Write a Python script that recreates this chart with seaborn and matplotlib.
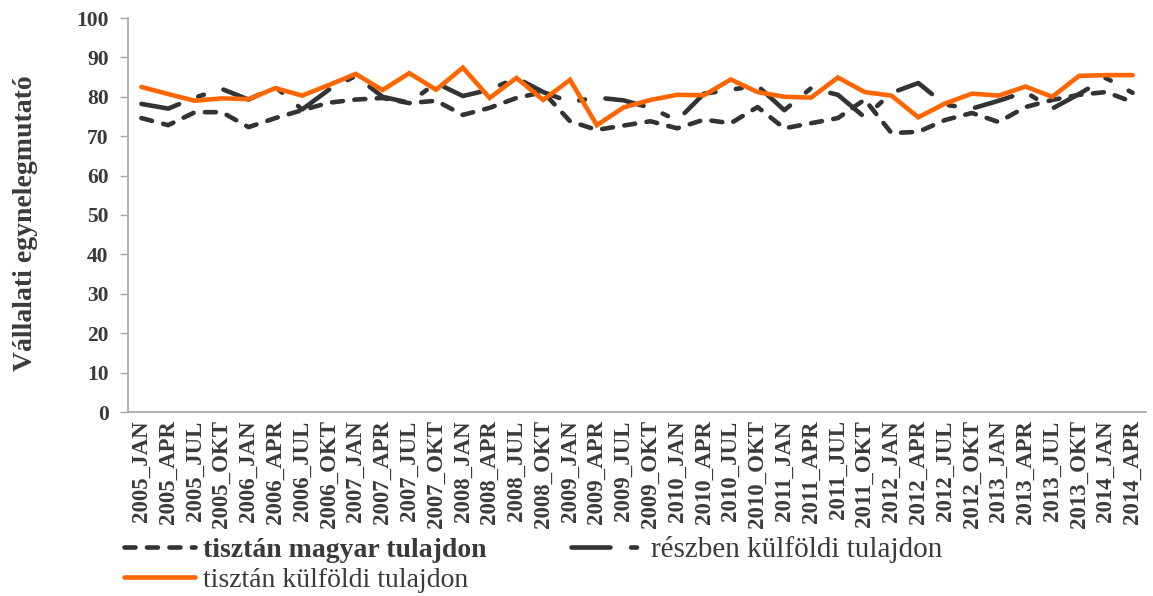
import numpy as np
import pandas as pd
import matplotlib
matplotlib.use("Agg")
import matplotlib.pyplot as plt
import seaborn as sns

categories = [
    "2005_JAN", "2005_APR", "2005_JUL", "2005_OKT",
    "2006_JAN", "2006_APR", "2006_JUL", "2006_OKT",
    "2007_JAN", "2007_APR", "2007_JUL", "2007_OKT",
    "2008_JAN", "2008_APR", "2008_JUL", "2008_OKT",
    "2009_JAN", "2009_APR", "2009_JUL", "2009_OKT",
    "2010_JAN", "2010_APR", "2010_JUL", "2010_OKT",
    "2011_JAN", "2011_APR", "2011_JUL", "2011_OKT",
    "2012_JAN", "2012_APR", "2012_JUL", "2012_OKT",
    "2013_JAN", "2013_APR", "2013_JUL", "2013_OKT",
    "2014_JAN", "2014_APR",
]

magyar = [74.6, 72.8, 76.1, 76.1, 72.3, 74.6, 76.6, 78.5, 79.3, 79.7,
          78.4, 79.0, 75.4, 77.2, 79.7, 81.2, 73.8, 71.6, 72.7, 73.8,
          72.0, 74.2, 73.3, 77.4, 72.0, 73.3, 74.6, 79.3, 70.8, 71.1,
          74.1, 75.9, 73.6, 77.4, 79.2, 80.5, 81.2, 78.7]

reszben = [78.2, 77.0, 79.8, 82.0, 79.3, 82.5, 76.8, 81.8, 85.3, 80.0,
           78.5, 83.5, 80.2, 81.8, 84.8, 81.2, 78.7, 79.8, 79.1, 77.2,
           74.0, 80.8, 81.8, 82.8, 76.6, 82.2, 80.5, 74.8, 81.0, 83.5,
           78.0, 77.0, 79.0, 81.2, 77.0, 80.7, 84.8, 81.0]

kulfoldi = [82.5, 80.7, 79.0, 79.6, 79.4, 82.2, 80.3, 83.0, 85.8, 81.7,
            86.0, 81.8, 87.4, 79.7, 84.8, 79.2, 84.3, 72.8, 77.3, 79.2,
            80.5, 80.4, 84.4, 81.2, 80.0, 79.8, 84.9, 81.2, 80.3, 74.8,
            78.3, 80.8, 80.3, 82.6, 80.0, 85.3, 85.5, 85.5]

series_names = ["tisztán magyar tulajdon", "részben külföldi tulajdon",
                "tisztán külföldi tulajdon"]
y_ticks = [0, 10, 20, 30, 40, 50, 60, 70, 80, 90, 100]
y_label = "Vállalati egynelegmutató"

DARK = "#333333"
ORANGE = "#FF6600"
TXT = "#3a3a3a"
AXC = "#a6a6a6"

sns.set_theme(style="white")
plt.rcParams["font.family"] = ["Liberation Serif", "DejaVu Serif"]

fig = plt.figure(figsize=(11.53, 5.96), dpi=100)
ax = fig.add_axes([128 / 1153, 1 - 412 / 596, (1146 - 128) / 1153, (412 - 18) / 596])

lw = 3.3
df = pd.DataFrame({"kat": categories, "magyar": magyar,
                   "reszben": reszben, "kulfoldi": kulfoldi})

sns.lineplot(data=df, x="kat", y="magyar", ax=ax, color=DARK, lw=lw,
             sort=False, label=series_names[0])
l1 = ax.lines[-1]
l1.set_dashes([2.4, 2.5])
l1.set_dash_capstyle("round")

sns.lineplot(data=df, x="kat", y="reszben", ax=ax, color=DARK, lw=lw,
             sort=False, label=series_names[1])
l2 = ax.lines[-1]
l2.set_dashes([8.5, 4.5, 1.3, 4.5])
l2.set_dash_capstyle("round")

sns.lineplot(data=df, x="kat", y="kulfoldi", ax=ax, color=ORANGE, lw=lw,
             sort=False, label=series_names[2])
l3 = ax.lines[-1]
l3.set_solid_capstyle("round")
l3.set_solid_joinstyle("miter")

ax.get_legend().remove()

n = len(categories)
ax.set_xlim(-0.5, n - 0.5)
ax.set_ylim(0, 100)
ax.set_yticks(y_ticks)
ax.set_yticklabels([str(v) for v in y_ticks], fontsize=15.5, fontweight="bold", color=TXT)
ax.set_xticks(range(n))
ax.set_xticklabels(categories, rotation=90, fontsize=16.5, fontweight="bold", color=TXT)
ax.set_xticks(np.arange(-0.5, n, 1.0), minor=True)
ax.tick_params(axis="x", which="major", length=0, pad=6)
ax.tick_params(axis="x", which="minor", length=7, width=1, color=AXC, direction="out")
ax.tick_params(axis="y", which="major", length=6, width=1, color=AXC, direction="out", pad=8, left=True)

for side in ["top", "right"]:
    ax.spines[side].set_visible(False)
for side in ["left", "bottom"]:
    ax.spines[side].set_color(AXC)
    ax.spines[side].set_linewidth(1.2)

ax.set_xlabel("")
ax.set_ylabel(y_label, fontsize=20, fontweight="bold", color=TXT)
ax.yaxis.set_label_coords(-0.088, 0.478)
ax.grid(False)

handles = [l1, l3, l2]
labels = [series_names[0], series_names[2], series_names[1]]
leg = fig.legend(handles, labels, loc="upper left",
                 bbox_to_anchor=(124 / 1153, 1 - 536 / 596), ncol=2,
                 frameon=False, fontsize=20, handlelength=2.55,
                 handletextpad=0.3, columnspacing=3.05, labelspacing=0.15,
                 borderpad=0, borderaxespad=0)
for t in leg.get_texts():
    t.set_color(TXT)
leg.get_texts()[0].set_fontweight("bold")
leg.get_texts()[2].set_fontsize(21)

fig.savefig("out.png", dpi=100)
